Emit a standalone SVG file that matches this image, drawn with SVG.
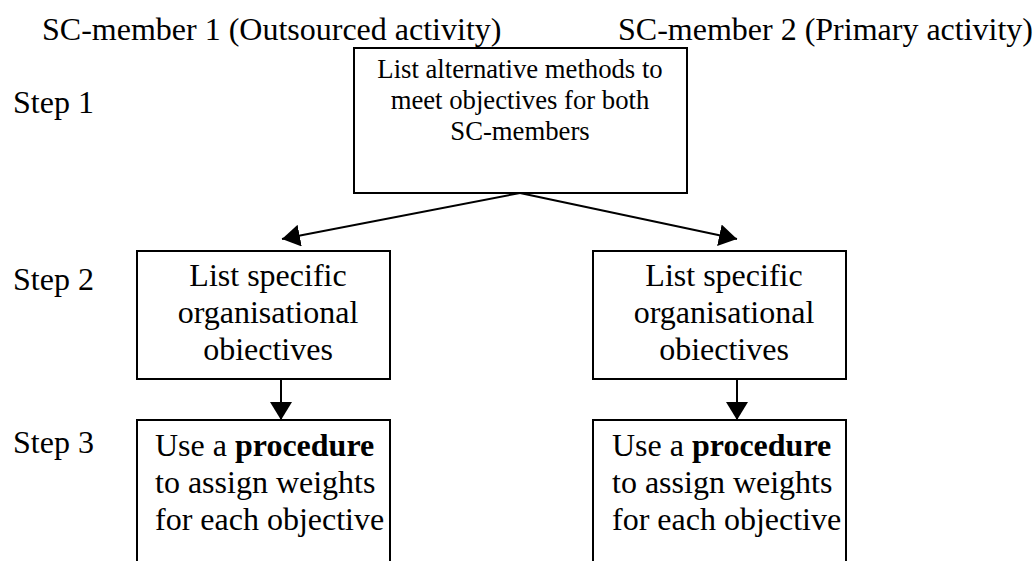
<svg xmlns="http://www.w3.org/2000/svg" width="1036" height="561" viewBox="0 0 1036 561">
<style>
text{font-family:"Liberation Serif","Times New Roman",serif;fill:#000}
.h{font-size:32px}
.s{font-size:32px}
.t1{font-size:26.7px;text-anchor:middle}
.t2{font-size:32px;text-anchor:middle}
.t3{font-size:32px}
.box{fill:#fff;stroke:#000;stroke-width:2}
.ln{stroke:#000;stroke-width:2;fill:none}
</style>
<defs>
<marker id="ah" viewBox="0 0 10 10" refX="10" refY="5" markerWidth="18" markerHeight="22" markerUnits="userSpaceOnUse" orient="auto" preserveAspectRatio="none">
<path d="M0,0 L10,5 L0,10 Z" fill="#000"/>
</marker>
</defs>
<rect width="1036" height="561" fill="#fff"/>
<g id="headers">
<text class="h" x="42" y="40">SC-member 1 (Outsourced activity)</text>
<text class="h" x="618" y="40">SC-member 2 (Primary activity)</text>
</g>
<g id="steps">
<text class="s" x="13" y="113">Step 1</text>
<text class="s" x="13" y="290">Step 2</text>
<text class="s" x="13" y="453">Step 3</text>
</g>
<g id="connectors">
<line class="ln" x1="520" y1="193" x2="282" y2="239" marker-end="url(#ah)"/>
<line class="ln" x1="520" y1="193" x2="737" y2="239" marker-end="url(#ah)"/>
<line class="ln" x1="281" y1="379" x2="281" y2="420" marker-end="url(#ah)"/>
<line class="ln" x1="737" y1="379" x2="737" y2="420" marker-end="url(#ah)"/>
</g>
<g id="node-methods">
<rect class="box" x="354" y="48" width="333" height="145"/>
<text class="t1" x="520" y="78">List alternative methods to</text>
<text class="t1" x="520" y="109">meet objectives for both</text>
<text class="t1" x="520" y="140">SC-members</text>
</g>
<g id="node-obj1">
<rect class="box" x="137" y="251" width="253" height="128"/>
<text class="t2" x="268" y="286">List specific</text>
<text class="t2" x="268" y="323">organisational</text>
<text class="t2" x="268" y="360">obiectives</text>
</g>
<g id="node-obj2">
<rect class="box" x="593" y="251" width="253" height="128"/>
<text class="t2" x="724" y="286">List specific</text>
<text class="t2" x="724" y="323">organisational</text>
<text class="t2" x="724" y="360">obiectives</text>
</g>
<g id="node-proc1">
<rect class="box" x="137" y="420" width="253" height="150"/>
<text class="t3" x="155" y="456">Use a <tspan font-weight="bold">procedure</tspan></text>
<text class="t3" x="155" y="493">to assign weights</text>
<text class="t3" x="155" y="530">for each objective</text>
</g>
<g id="node-proc2">
<rect class="box" x="593" y="420" width="253" height="150"/>
<text class="t3" x="612" y="456">Use a <tspan font-weight="bold">procedure</tspan></text>
<text class="t3" x="612" y="493">to assign weights</text>
<text class="t3" x="612" y="530">for each objective</text>
</g>
</svg>
